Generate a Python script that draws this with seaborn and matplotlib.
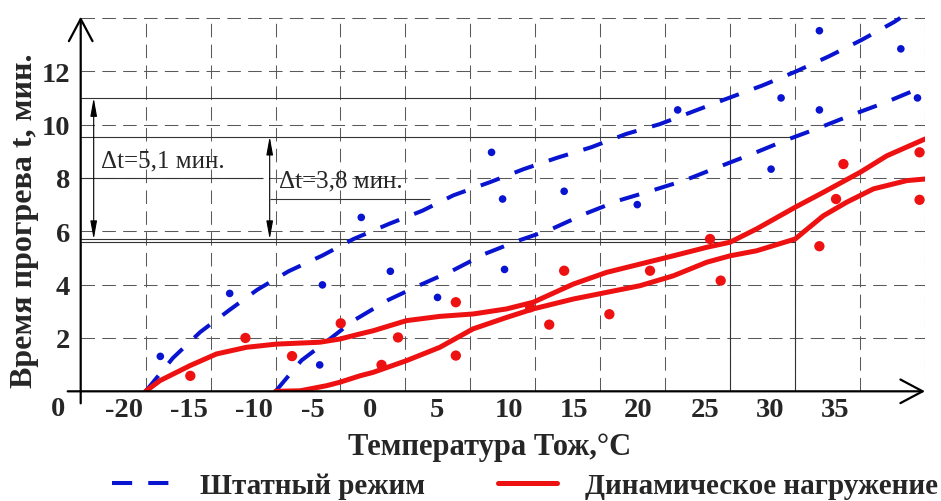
import numpy as np
import pandas as pd
import matplotlib
matplotlib.use("Agg")
import matplotlib.pyplot as plt
import seaborn as sns

# --- ДАННЫЕ ---
# штатный режим, верхняя кривая
blue_up_x = [-20, -17.9, -15.8, -13.6, -11.4, -9.0, -6.4, -4.0, -1.3, 1.3, 3.7, 6.5,
             9.1, 11.7, 14.3, 17.0, 19.6, 22.3, 24.9, 27.5, 30.1, 32.6, 35.1, 37.6, 38.1]
blue_up_y = [0, 1.25, 2.22, 3.03, 3.81, 4.50, 5.09, 5.71, 6.27, 6.77, 7.35, 7.84,
             8.33, 8.76, 9.15, 9.65, 10.02, 10.52, 11.0, 11.47, 12.0, 12.56, 13.17, 13.84, 14.0]
# штатный режим, нижняя кривая
blue_lo_x = [-10, -8.0, -5.8, -4.0, -1.3, 1.1, 3.6, 6.1, 8.7, 11.1, 13.8, 16.4,
             19.0, 21.5, 24.2, 26.7, 29.2, 31.8, 34.4, 37.0, 40.0]
blue_lo_y = [0, 1.16, 1.97, 2.65, 3.43, 3.98, 4.52, 5.15, 5.65, 6.05, 6.65, 7.15,
             7.53, 7.91, 8.43, 8.9, 9.4, 9.87, 10.37, 10.84, 11.45]
# динамическое нагружение, кривая от -20
red_a_x = [-20, -18.9, -16.6, -14.55, -12.24, -9.93, -6.6, -5.05, -3.51, -2.49, 0.08, 2.65,
           5.22, 7.79, 9.84, 12.92, 15.49, 18.06, 20.62, 23.2, 24.99, 27.04, 30.0, 32.17,
           35.0, 37.06, 40.0]
red_a_y = [0, 0.4, 0.96, 1.4, 1.65, 1.77, 1.84, 1.96, 2.15, 2.27, 2.65, 2.81,
           2.9, 3.09, 3.34, 4.02, 4.46, 4.77, 5.08, 5.4, 5.59, 6.09, 6.9, 7.46,
           8.21, 8.83, 9.46]
# динамическое нагружение, кривая от -10
red_b_x = [-10, -8.1, -6.08, -5.05, -3.51, -2.49, 0.08, 2.65, 5.2, 7.79, 9.84, 12.92,
           15.49, 18.06, 20.62, 23.2, 24.99, 27.04, 30.0, 32.17, 33.97, 36.03, 38.6, 40.0]
red_b_y = [0, 0.02, 0.21, 0.34, 0.58, 0.71, 1.15, 1.65, 2.34, 2.77, 3.09, 3.46,
           3.71, 3.96, 4.33, 4.84, 5.08, 5.27, 5.71, 6.58, 7.09, 7.59, 7.9, 7.96]

# экспериментальные точки
blue_pts_x = [-18.87, -13.53, -6.39, -6.6, -3.4, -1.16, 2.47, 7.63, 6.63, 7.48, 12.22,
              17.85, 20.96, 28.92, 31.87, 31.87, 28.15, 38.14, 39.42]
blue_pts_y = [1.31, 3.67, 3.99, 0.99, 6.52, 4.5, 3.52, 4.57, 8.96, 7.21, 7.5,
              7.0, 10.55, 11.0, 13.52, 10.55, 8.33, 12.84, 11.0]
red_pts_x = [-16.56, -12.32, -8.73, -4.98, -0.57, -1.84, 3.88, 3.88, 9.6, 11.07, 12.22,
             15.7, 18.83, 23.45, 24.27, 31.87, 33.15, 39.58, 33.72, 39.58]
red_pts_y = [0.58, 2.0, 1.32, 2.55, 2.02, 0.99, 3.34, 1.34, 3.15, 2.5, 4.52,
             2.89, 4.52, 5.71, 4.15, 5.44, 7.21, 7.18, 8.52, 8.96]

# подписи осей (подписи X в рисунке сдвинуты влево от линий сетки)
x_labels = ['-20', '-15', '-10', '-5', '0', '5', '10', '15', '20', '25', '30', '35']
x_label_pos = [-21.7, -16.7, -11.7, -7.1, -2.7, 2.4, 8.0, 13.0, 17.9, 23.1, 28.1, 33.1]
y_ticks = [2, 4, 6, 8, 10, 12]
grid_x = [-20, -15, -10, -5, 0, 5, 10, 15, 20, 25, 30, 35, 40]
grid_y = [2, 4, 6, 8, 10, 12, 14]

# линии построения Δt
ref_h_y = [11.0, 9.55, 8.0, 7.2, 5.7, 5.6]
ref_h_x0 = [-25, -25, -25, -10.45, -25, -25]
ref_h_x1 = [25, 30, -11.0, 1.9, 25, 30]
ref_v_x = [25, 30]
ref_v_y1 = [11.0, 9.55]

BLUE = '#0814cf'
RED = '#ee1111'

sns.set_style('white')
plt.rcParams['font.family'] = ['Liberation Serif', 'DejaVu Serif']

fig = plt.figure(figsize=(9.41, 5.02), dpi=100)
ax = fig.add_axes([0.08576, 0.2185, 0.89724, 0.7757])
ax.set_xlim(-25, 40)
ax.set_ylim(0, 14.6)
for s in ax.spines.values():
    s.set_visible(False)

# сетка
dash = (0, (13, 7))
ax.vlines(grid_x, 0, 14, colors='#5a5a5a', lw=0.75, linestyles=[dash], zorder=1)
ax.hlines(grid_y, -25, 40, colors='#5a5a5a', lw=0.75, linestyles=[dash], zorder=1)

# вспомогательные линии
ax.hlines(ref_h_y, ref_h_x0, ref_h_x1, colors='#333333', lw=0.8, zorder=1.5)
ax.vlines(ref_v_x, 0, ref_v_y1, colors='#333333', lw=0.8, zorder=1.5)

# кривые
sns.lineplot(x=blue_up_x, y=blue_up_y, ax=ax, color=BLUE, lw=2.9, linestyle=(0, (5, 4)),
             sort=False, estimator=None, label='Штатный режим', zorder=3)
sns.lineplot(x=blue_lo_x, y=blue_lo_y, ax=ax, color=BLUE, lw=2.9, linestyle=(0, (5, 4)),
             sort=False, estimator=None, zorder=3)
sns.lineplot(x=red_a_x, y=red_a_y, ax=ax, color=RED, lw=3.6,
             sort=False, estimator=None, label='Динамическое нагружение', zorder=3)
sns.lineplot(x=red_b_x, y=red_b_y, ax=ax, color=RED, lw=3.6,
             sort=False, estimator=None, zorder=3)

sns.scatterplot(x=blue_pts_x, y=blue_pts_y, ax=ax, color=BLUE, s=30, edgecolor='none',
                zorder=4, legend=False)
sns.scatterplot(x=red_pts_x, y=red_pts_y, ax=ax, color=RED, s=55, edgecolor='none',
                zorder=4, legend=False)

# оси со стрелками
arrow = dict(arrowstyle='->,head_length=1.6,head_width=0.85', lw=1.6, color='black',
             shrinkA=0, shrinkB=0, mutation_scale=10)
ax.annotate('', xy=(40, 0), xytext=(-26, 0), arrowprops=arrow, annotation_clip=False, zorder=5)
ax.annotate('', xy=(-25, 14.05), xytext=(-25, -0.45), arrowprops=arrow, annotation_clip=False, zorder=5)

# стрелки Δt
dt_arrow = dict(arrowstyle='<|-|>,head_length=1.1,head_width=0.2', lw=0.8, color='black',
                shrinkA=0, shrinkB=0, mutation_scale=10)
ax.annotate('', xy=(-24.0, 11.0), xytext=(-24.0, 5.7), arrowprops=dt_arrow)
ax.annotate('', xy=(-10.45, 9.55), xytext=(-10.45, 5.7), arrowprops=dt_arrow)
ax.text(-23.4, 8.65, 'Δt=5,1 мин.', fontsize=18, va='center', ha='left')
ax.text(-9.75, 7.9, 'Δt=3,8 мин.', fontsize=18, va='center', ha='left')

# подписи
ax.set_xticks(x_label_pos, x_labels)
ax.set_yticks(y_ticks, [str(v) for v in y_ticks])
ax.tick_params(length=0, labelsize=20.5)
ax.tick_params(axis='x', pad=4)
ax.tick_params(axis='y', pad=7.5)
for lab in ax.get_xticklabels() + ax.get_yticklabels():
    lab.set_fontweight('bold')
ax.text(-26.78, -0.66, '0', fontsize=20.5, fontweight='bold', ha='center', va='center',
        clip_on=False)

ax.set_xlabel('Температура Тож,°C', fontsize=22, fontweight='bold')
ax.xaxis.set_label_coords(0.4848, -0.105)
ax.set_ylabel('Время прогрева t, мин.', fontsize=23, fontweight='bold')
ax.yaxis.set_label_coords(-0.049, 0.44)

handles, labels = ax.get_legend_handles_labels()
ax.legend(handles, labels, loc='center left', bbox_to_anchor=(112 / 941, 15 / 502),
          bbox_transform=fig.transFigure, ncol=2, frameon=False, borderpad=0,
          borderaxespad=0, handlelength=2.05, handletextpad=0.96, columnspacing=2.5,
          prop=dict(weight='bold', size=21))

fig.savefig('out.png', dpi=100, facecolor='white')
